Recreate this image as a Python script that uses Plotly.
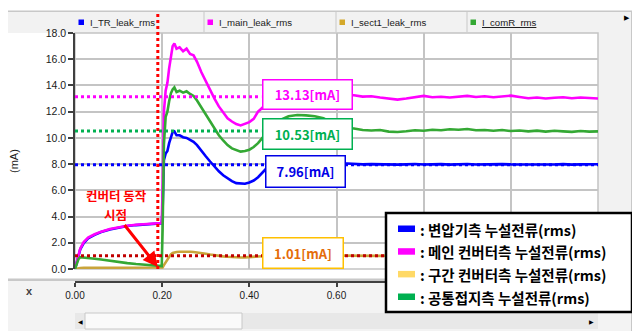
import plotly.graph_objects as go

# ---------------- data ----------------
time_s = [
    0.000, 0.004, 0.008, 0.012, 0.020, 0.030, 0.045, 0.060, 0.080, 0.100, 0.120, 0.140, 0.160, 0.180, 0.199,
    0.201, 0.204, 0.208, 0.212, 0.216, 0.220, 0.224, 0.228, 0.233, 0.240,
    0.248, 0.256, 0.264, 0.272, 0.280, 0.290, 0.300, 0.310, 0.320, 0.330,
    0.340, 0.350, 0.360, 0.370, 0.380, 0.390, 0.400, 0.410, 0.420, 0.430,
    0.440, 0.455, 0.470, 0.490, 0.510, 0.530, 0.550, 0.570, 0.590, 0.610, 0.625,
    0.64, 0.66, 0.68, 0.70, 0.72, 0.74, 0.76, 0.78, 0.80, 0.82,
    0.84, 0.86, 0.88, 0.90, 0.92, 0.94, 0.96, 0.98, 1.00, 1.02,
    1.04, 1.06, 1.08, 1.10, 1.12, 1.14, 1.16, 1.18, 1.20,
]

i_tr_leak = [
    0.00, 0.55, 1.10, 1.50, 1.98, 2.33, 2.60, 2.82, 3.02, 3.17, 3.28, 3.35, 3.41, 3.45, 3.48,
    4.5, 8.3, 8.8, 9.0, 9.6, 10.1, 10.45, 10.5, 10.2, 10.2,
    10.05, 10.0, 9.85, 9.7, 9.45, 9.0, 8.6, 8.2, 7.8, 7.45,
    7.15, 6.9, 6.7, 6.55, 6.5, 6.5, 6.6, 6.75, 7.0, 7.35,
    7.7, 8.1, 8.35, 8.45, 8.45, 8.4, 8.3, 8.2, 8.1, 8.05, 8.05,
    8.02, 7.98, 8.0, 7.97, 7.99, 7.96, 7.98, 8.01, 7.97, 7.99,
    8.0, 7.96, 7.98, 8.01, 7.97, 7.99, 7.96, 8.0, 7.98, 7.97,
    7.99, 7.96, 7.98, 7.97, 8.0, 7.96, 7.98, 7.97, 7.99,
]

i_main_leak = [
    0.00, 0.60, 1.15, 1.55, 2.05, 2.40, 2.65, 2.85, 3.05, 3.20, 3.30, 3.38, 3.43, 3.46, 3.50,
    6.0, 12.0, 13.6, 14.2, 15.3, 16.3, 17.0, 17.2, 16.8, 16.9,
    16.6, 16.8, 16.4, 16.3, 15.8, 15.0, 14.3, 13.6, 13.0, 12.4,
    11.9, 11.5, 11.25, 11.05, 10.95, 11.05, 11.2, 11.45, 12.0, 12.3,
    12.8, 13.4, 13.8, 14.1, 14.2, 14.1, 13.9, 13.7, 13.45, 13.3, 13.25,
    13.25, 13.15, 13.18, 13.08, 13.02, 12.92, 13.0, 13.12, 13.2, 13.1,
    13.14, 13.08, 13.16, 13.2, 13.12, 13.18, 13.1, 13.16, 13.22, 13.12,
    13.02, 13.08, 13.0, 13.06, 13.1, 13.02, 13.08, 13.04, 13.0,
]

i_sect1_leak = [
    0.00, 0.03, 0.06, 0.08, 0.09, 0.10, 0.10, 0.10, 0.10, 0.10, 0.10, 0.10, 0.10, 0.10, 0.10,
    0.12, 0.30, 0.50, 0.72, 0.95, 1.12, 1.22, 1.27, 1.30, 1.32,
    1.33, 1.33, 1.32, 1.30, 1.27, 1.22, 1.16, 1.10, 1.04, 1.00,
    0.96, 0.93, 0.90, 0.89, 0.88, 0.89, 0.91, 0.94, 0.98, 1.01,
    1.03, 1.04, 1.05, 1.05, 1.04, 1.03, 1.02, 1.01, 1.01, 1.00, 1.00,
    1.00, 0.99, 1.01, 1.00, 1.02, 1.00, 0.99, 1.01, 1.00, 1.01,
    1.00, 1.02, 1.00, 0.99, 1.01, 1.00, 1.01, 0.99, 1.00, 1.01,
    1.00, 1.01, 0.99, 1.00, 1.02, 1.00, 1.01, 1.00, 1.01,
]

i_comr = [
    0.00, 0.40, 0.75, 0.90, 0.88, 0.84, 0.78, 0.72, 0.62, 0.53, 0.45, 0.38, 0.31, 0.25, 0.22,
    3.0, 9.5, 11.6, 12.0, 12.8, 13.4, 13.7, 13.85, 13.5, 13.6,
    13.45, 13.55, 13.35, 13.2, 12.85, 12.3, 11.75, 11.2, 10.7, 10.2,
    9.8, 9.45, 9.2, 9.05, 8.95, 9.0, 9.1, 9.3, 9.6, 10.0,
    10.5, 11.0, 11.35, 11.65, 11.75, 11.72, 11.65, 11.5, 11.15, 10.9, 10.75,
    10.72, 10.6, 10.56, 10.6, 10.48, 10.45, 10.5, 10.58, 10.55, 10.62,
    10.58, 10.66, 10.62, 10.68, 10.58, 10.6, 10.55, 10.6, 10.52, 10.56,
    10.5, 10.55, 10.48, 10.54, 10.5, 10.46, 10.52, 10.48, 10.5,
]

series_names = ["I_TR_leak_rms", "I_main_leak_rms", "I_sect1_leak_rms", "I_comR_rms"]
series_values = [i_tr_leak, i_main_leak, i_sect1_leak, i_comr]
series_colors = ["#0000FF", "#FF00FF", "#C9A43A", "#34A834"]
header_swatch_colors = ["#0000FF", "#FF00FF", "#D4A82A", "#34A834"]

legend_labels_ko = [
    ": 변압기측 누설전류(rms)",
    ": 메인 컨버터측 누설전류(rms)",
    ": 구간 컨버터측 누설전류(rms)",
    ": 공통접지측 누설전류(rms)",
]
legend_swatch_colors = ["#0000FF", "#FF00FF", "#FFD966", "#00B050"]

ref_values = [13.13, 10.53, 7.96, 1.01]
ref_labels = ["13.13[mA]", "10.53[mA]", "7.96[mA]", "1.01[mA]"]
ref_line_colors = ["#FF00FF", "#00B050", "#0000FF", "#C00000"]
ref_text_colors = ["#FF00FF", "#00B050", "#0000E6", "#E46C0A"]
ref_border_colors = ["#FF00FF", "#00B050", "#0000E6", "#FFC000"]
ref_line_end = [0.427, 0.427, 1.2, 1.2]
ref_label_x = [0.5335, 0.5335, 0.529, 0.523]
ref_label_y = [13.31, 10.26, 7.44, 1.22]
ref_label_w = [86, 86, 76, 77]
ref_label_h = [26, 27, 28, 27]

x_ticks = [0.0, 0.2, 0.4, 0.6, 0.8, 1.0, 1.2]
x_tick_text = ["0.00", "0.20", "0.40", "0.60", "", "", ""]
y_ticks = [0, 2, 4, 6, 8, 10, 12, 14, 16, 18]
converter_start = 0.19
annot_line1 = "컨버터 동작"
annot_line2 = "시점"

# ---------------- layout geometry (window pixels -> paper) ----------------
# the page body has an 8 px default margin, so the figure is 8 px smaller
OFF = 8
WIN_W, WIN_H = 640, 331
W, H = WIN_W - OFF, WIN_H - OFF
PLOT_L, PLOT_R, PLOT_T, PAPER_B = 75, 598, 33, 282   # window pixel positions
ML = PLOT_L - OFF
MR = WIN_W - PLOT_R
MT = PLOT_T - OFF
MB = WIN_H - PAPER_B
PW = PLOT_R - PLOT_L
PH = PAPER_B - PLOT_T
def px(xp):
    return (xp - PLOT_L) / PW
def py(yp):
    return (PAPER_B - yp) / PH
y_dom0 = py(269)

KR = "Noto Sans CJK KR"
AR = "Liberation Sans, Arial"

fig = go.Figure()

for name, vals, col in zip(series_names, series_values, series_colors):
    fig.add_trace(go.Scatter(x=time_s, y=vals, mode="lines", name=name,
                             line=dict(color=col, width=2.6), showlegend=False,
                             hoverinfo="skip"))

for val, col, xend in zip(ref_values, ref_line_colors, ref_line_end):
    fig.add_trace(go.Scatter(x=[0, xend], y=[val, val], mode="lines",
                             line=dict(color=col, width=3, dash="dot"),
                             showlegend=False, hoverinfo="skip"))

# dummy trace to carry the lower tick axis
fig.add_trace(go.Scatter(x=[None], y=[None], xaxis="x2", showlegend=False, hoverinfo="skip"))

shapes = []
def rect(x0, y0, x1, y1, fill, line=None, lw=0, layer="below"):
    shapes.append(dict(type="rect", xref="paper", yref="paper",
                       x0=px(x0), x1=px(x1), y0=py(y1), y1=py(y0),
                       fillcolor=fill, line=dict(color=line or fill, width=lw),
                       layer=layer))

# window chrome
rect(7, 11, 632, 33, "#F2F2F2")
rect(598, 11, 632, 281, "#F2F2F2")
rect(7, 281, 632, 331, "#F3F3F3")
rect(7, 278.5, 632, 281, "#C8C8C8")
rect(7, 10.5, 632, 12, "#C8C8C8")
rect(631, 11, 633, 331, "#C8C8C8")
for sx in [204, 336, 467]:
    rect(sx - 0.5, 12, sx + 0.5, 32, "#C8C8C8")
rect(75, 313, 598, 329, "#E8E8E8")
rect(85, 313, 242, 329, "#FAFAFA", "#C8C8C8", 1)
# plot frame
shapes.append(dict(type="rect", xref="paper", yref="paper", x0=0, x1=1, y0=y_dom0, y1=1,
                   line=dict(color="#C4C4C4", width=1.5), layer="below"))

# header legend swatches
cells = [75, 204, 336, 467]
for cx, col in zip(cells, header_swatch_colors):
    rect(cx + 3.5, 19.5, cx + 9, 25, col)

# vertical dotted converter start line
shapes.append(dict(type="line", xref="x", yref="paper", x0=converter_start, x1=converter_start,
                   y0=y_dom0, y1=py(12), line=dict(color="#FF0000", width=3, dash="dot"),
                   layer="above"))

# custom Korean legend box
rect(386, 213, 632, 312, "#FFFFFF", "#000000", 2.5, layer="above")
row_y = [229, 251.7, 274.4, 297]
for ry, col in zip(row_y, legend_swatch_colors):
    rect(398, ry - 3.5, 415, ry + 3, col, layer="above")

annotations = []
for lab, tx, ty, tc, bc, w, h in zip(ref_labels, ref_label_x, ref_label_y, ref_text_colors,
                                     ref_border_colors, ref_label_w, ref_label_h):
    annotations.append(dict(x=tx, y=ty, xref="x", yref="y", text="<b>" + lab + "</b>",
                            xanchor="center", yanchor="middle",
                            showarrow=False, font=dict(family=KR, size=13, color=tc),
                            bgcolor="#FFFFFF", bordercolor=bc, borderwidth=1.5, borderpad=1,
                            width=w, height=h, align="center", valign="middle"))

for cx, name in zip(cells, series_names):
    txt = "<u>" + name + "</u>" if name == "I_comR_rms" else name
    annotations.append(dict(x=px(cx + 12.5), y=py(22.5), xref="paper", yref="paper",
                            xanchor="left", yanchor="middle", text=txt, showarrow=False,
                            font=dict(family=AR, size=9.6, color="#1A1A1A")))

for ry, lab in zip(row_y, legend_labels_ko):
    annotations.append(dict(x=px(418), y=py(ry), xref="paper", yref="paper",
                            xanchor="left", yanchor="middle", text="<b>" + lab + "</b>",
                            showarrow=False, font=dict(family=KR, size=14.5, color="#000000")))

# converter start note; the second line carries the arrow
annotations.append(dict(x=px(116), y=py(196), xref="paper", yref="paper",
                        xanchor="center", yanchor="middle",
                        text="<b>" + annot_line1 + "</b>", showarrow=False,
                        font=dict(family=KR, size=12.5, color="#FF0000")))
annotations.append(dict(x=converter_start, y=0.15, xref="x", yref="y",
                        text="<b>" + annot_line2 + "</b>", showarrow=True,
                        ax=-42, ay=-53, arrowhead=2, arrowsize=1, arrowwidth=3,
                        arrowcolor="#FF0000", standoff=0, startstandoff=0,
                        font=dict(family=KR, size=12.5, color="#FF0000")))

# axis caption texts and small window glyphs
def side_text(xp, yp, text, size, color, family=AR, angle=0):
    annotations.append(dict(x=px(xp), y=py(yp), xref="paper", yref="paper", text=text,
                            xanchor="center", yanchor="middle", textangle=angle,
                            showarrow=False, font=dict(family=family, size=size, color=color)))

side_text(14, 161, "(mA)", 11, "#1A1A1A", angle=-90)
side_text(29, 291, "<b>x</b>", 11, "#404040")
side_text(627, 18, "▶", 7, "#000000", family="DejaVu Sans")
side_text(80, 321, "◀", 6, "#000000", family="DejaVu Sans")
side_text(591, 321, "▶", 6, "#000000", family="DejaVu Sans")
side_text(636, 272, "▼", 6, "#000000", family="DejaVu Sans")

fig.update_layout(
    width=W, height=H,
    margin=dict(l=ML, r=MR, t=MT, b=MB, pad=0, autoexpand=False),
    paper_bgcolor="#FFFFFF", plot_bgcolor="#FFFFFF",
    showlegend=False,
    xaxis=dict(range=[0, 1.2], tickvals=x_ticks, showticklabels=False, ticks="",
               showgrid=True, gridcolor="#C4C4C4", gridwidth=1.5, zeroline=False,
               showline=False, fixedrange=True, automargin=False),
    xaxis2=dict(range=[0, 1.2], overlaying="x", anchor="free", position=0,
                tickvals=x_ticks, ticktext=x_tick_text, ticks="outside", ticklen=4,
                tickcolor="#404040", tickwidth=1.5, showline=True, linecolor="#404040",
                linewidth=1.5, showgrid=False, zeroline=False, automargin=False,
                tickfont=dict(family=AR, size=10, color="#1A1A1A")),
    yaxis=dict(range=[0, 18], domain=[y_dom0, 1], tickvals=y_ticks, tickformat=".1f",
               ticks="outside", ticklen=5, tickcolor="#404040", tickwidth=1.5,
               showline=True, linecolor="#404040", linewidth=1.5, automargin=False,
               showgrid=True, gridcolor="#C4C4C4", gridwidth=1.5, zeroline=False,
               tickfont=dict(family=AR, size=10.5, color="#1A1A1A")),
    shapes=shapes,
    annotations=annotations,
)

fig.write_html("out.html")
